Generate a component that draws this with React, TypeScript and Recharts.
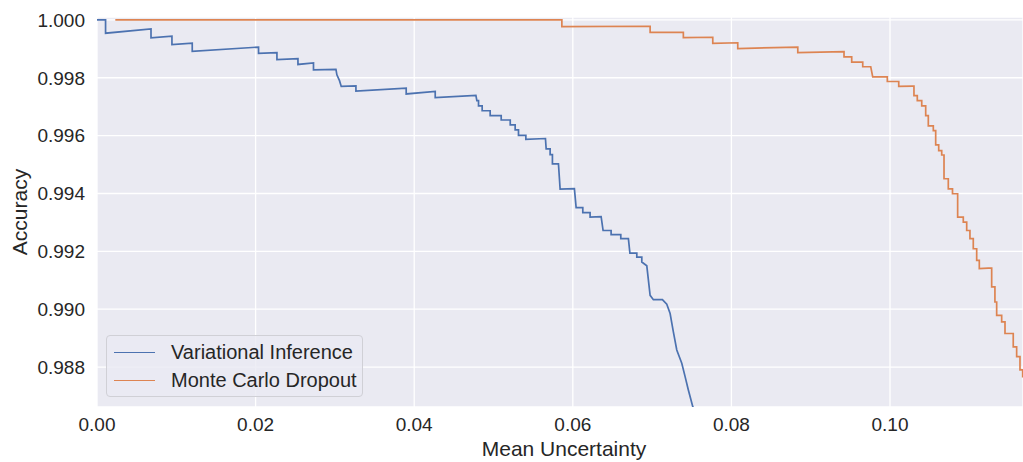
import React from "react";
import { LineChart, Line, XAxis, YAxis, CartesianGrid, Label } from "recharts";

// Variational Inference curve
const viX = [
  0.0, 0.00108, 0.00108, 0.00681, 0.00681, 0.00945, 0.00945, 0.01201, 0.01201,
  0.02037, 0.02037, 0.02269, 0.02269, 0.02534, 0.02534, 0.0273, 0.0273, 0.03013,
  0.03025, 0.03058, 0.0308, 0.03265, 0.03265, 0.03899, 0.03899, 0.04265, 0.04265,
  0.04778, 0.0479, 0.04811, 0.04811, 0.04857, 0.04857, 0.04958, 0.04958, 0.05097,
  0.05097, 0.05211, 0.05211, 0.05273, 0.05273, 0.05315, 0.05315, 0.05408, 0.05408,
  0.05655, 0.05664, 0.05714, 0.05714, 0.05743, 0.05743, 0.05819, 0.0584, 0.0602,
  0.06042, 0.06126, 0.06126, 0.06218, 0.06218, 0.06357, 0.06382, 0.06483, 0.06483,
  0.06605, 0.06605, 0.06701, 0.0672, 0.06807, 0.06807, 0.0687, 0.0687, 0.06933,
  0.06975, 0.07016, 0.0713, 0.07185, 0.07227, 0.07268, 0.07311, 0.07374, 0.07416,
  0.07457, 0.07513, 0.0755,
];
const viY = [
  1.0, 1.0, 0.99954, 0.99969, 0.99938, 0.99944, 0.99915, 0.9992, 0.99891,
  0.99906, 0.99884, 0.99887, 0.99863, 0.99866, 0.99846, 0.99851, 0.99827, 0.99829,
  0.9981, 0.9979, 0.9977, 0.99772, 0.99754, 0.99764, 0.99744, 0.99753, 0.99731,
  0.99739, 0.99721, 0.99721, 0.99703, 0.99703, 0.99686, 0.99686, 0.99669, 0.99669,
  0.99654, 0.99654, 0.99637, 0.99637, 0.9962, 0.9962, 0.99601, 0.99601, 0.99587,
  0.9959, 0.99554, 0.99554, 0.99534, 0.99534, 0.99502, 0.99502, 0.99415, 0.99417,
  0.99351, 0.99351, 0.99334, 0.99334, 0.99318, 0.9932, 0.99272, 0.99272, 0.99258,
  0.99258, 0.99244, 0.99244, 0.99194, 0.99194, 0.9918, 0.9918, 0.99163, 0.9915,
  0.99048, 0.99033, 0.99033, 0.99017, 0.98985, 0.98922, 0.98859, 0.98813, 0.98767,
  0.98721, 0.98663, 0.9864,
];

// Monte Carlo Dropout curve
const mcX = [
  0.00231, 0.05862, 0.05862, 0.06975, 0.06975, 0.07394, 0.07394, 0.07765, 0.07765,
  0.0808, 0.0808, 0.08837, 0.08837, 0.0942, 0.0942, 0.09517, 0.09517, 0.09656,
  0.09656, 0.09757, 0.09782, 0.09966, 0.09966, 0.1011, 0.1011, 0.10281,
  0.10302, 0.10302, 0.10344, 0.10344, 0.104, 0.104, 0.1045, 0.1045, 0.10483, 0.10483,
  0.10546, 0.10546, 0.10576, 0.10576, 0.10614, 0.10614, 0.10652, 0.10652, 0.10681,
  0.10681, 0.10735, 0.10735, 0.10788, 0.10788, 0.10853, 0.10853, 0.10924, 0.10924,
  0.10967, 0.10967, 0.11008, 0.11008, 0.1105, 0.1105, 0.11093, 0.11093, 0.11126,
  0.11126, 0.11239, 0.11282, 0.11282, 0.11323, 0.11323, 0.11345, 0.11345, 0.11408,
  0.11408, 0.1145, 0.1145, 0.11554, 0.11554, 0.11597, 0.11597, 0.11639, 0.11639,
  0.11673, 0.11673, 0.1168,
];
const mcY = [
  1.0, 1.0, 0.99977, 0.99978, 0.99957, 0.99957, 0.99939, 0.9994, 0.99919,
  0.99921, 0.99901, 0.99906, 0.99887, 0.9989, 0.99872, 0.99872, 0.99854, 0.99854,
  0.99838, 0.99838, 0.99803, 0.99803, 0.99787, 0.99787, 0.9977, 0.99771,
  0.99771, 0.99738, 0.99738, 0.99721, 0.99721, 0.99703, 0.99703, 0.99669, 0.99669, 0.99634,
  0.99634, 0.99617, 0.99617, 0.99568, 0.99568, 0.99548, 0.99548, 0.99533, 0.99533,
  0.99451, 0.99451, 0.99416, 0.99416, 0.99399, 0.99399, 0.99318, 0.99318, 0.99301,
  0.99301, 0.99272, 0.99272, 0.99244, 0.99244, 0.99209, 0.99209, 0.99169, 0.99169,
  0.9914, 0.99142, 0.99142, 0.99077, 0.99077, 0.99025, 0.99025, 0.98979, 0.98979,
  0.98956, 0.98956, 0.98916, 0.98916, 0.9887, 0.9887, 0.98836, 0.98836, 0.9879,
  0.9879, 0.98767, 0.98767,
];

const xTicks = [0, 0.02, 0.04, 0.06, 0.08, 0.1];
const yTicks = [0.988, 0.99, 0.992, 0.994, 0.996, 0.998, 1.0];
const seriesNames = ["Variational Inference", "Monte Carlo Dropout"];
const colors = ["#4C72B0", "#DD8452"];

const viData = viX.map((x, i) => ({ x, y: viY[i] }));
const mcData = mcX.map((x, i) => ({ x, y: mcY[i] }));

const font = "Arial, 'Liberation Sans', sans-serif";
const textColor = "#262626";

export default function App() {
  return (
    <div style={{ position: "absolute", left: 0, top: 0, width: 1023, height: 462, fontFamily: font }}>
      <LineChart width={1023} height={462} margin={{ top: 17, right: 0, bottom: 0, left: 0 }}>
        <CartesianGrid stroke="#ffffff" strokeWidth={1.3} fill="#EAEAF2" fillOpacity={1} />
        <XAxis
          dataKey="x"
          type="number"
          domain={[0, 0.11677]}
          allowDataOverflow
          ticks={xTicks}
          tickFormatter={(v: number) => v.toFixed(2)}
          axisLine={false}
          tickLine={false}
          tickSize={0}
          tickMargin={11}
          height={55}
          tick={{ fill: textColor, fontSize: 19, fontFamily: font }}
        >
          <Label
            content={({ viewBox }: any) => (
              <text
                x={viewBox.x + viewBox.width / 2 + 4}
                y={456}
                textAnchor="middle"
                fill={textColor}
                fontSize={21}
                fontFamily={font}
              >
                Mean Uncertainty
              </text>
            )}
          />
        </XAxis>
        <YAxis
          dataKey="y"
          type="number"
          domain={[0.98662, 1.0001]}
          allowDataOverflow
          ticks={yTicks}
          tickFormatter={(v: number) => v.toFixed(3)}
          axisLine={false}
          tickLine={false}
          tickSize={0}
          tickMargin={12}
          width={97}
          tick={{ fill: textColor, fontSize: 19, fontFamily: font }}
        >
          <Label
            content={() => (
              <text
                x={27}
                y={212}
                transform="rotate(-90, 27, 212)"
                textAnchor="middle"
                fill={textColor}
                fontSize={21}
                fontFamily={font}
              >
                Accuracy
              </text>
            )}
          />
        </YAxis>
        <Line
          data={viData}
          dataKey="y"
          type="linear"
          stroke={colors[0]}
          strokeWidth={1.7}
          dot={false}
          isAnimationActive={false}
        />
        <Line
          data={mcData}
          dataKey="y"
          type="linear"
          stroke={colors[1]}
          strokeWidth={1.7}
          dot={false}
          isAnimationActive={false}
        />
      </LineChart>
      <div
        style={{
          position: "absolute",
          left: 106,
          top: 335,
          width: 257,
          height: 62,
          boxSizing: "border-box",
          background: "rgba(234,234,242,0.8)",
          border: "1px solid #d0d0d6",
          borderRadius: 4,
          padding: "2px 0 0 7px",
        }}
      >
        {seriesNames.map((name, i) => (
          <div key={name} style={{ display: "flex", alignItems: "center", height: 28 }}>
            <div style={{ width: 41, height: 0, borderTop: `1.5px solid ${colors[i]}`, marginRight: 16 }} />
            <span style={{ fontSize: 20, color: textColor, lineHeight: "28px" }}>{name}</span>
          </div>
        ))}
      </div>
    </div>
  );
}
